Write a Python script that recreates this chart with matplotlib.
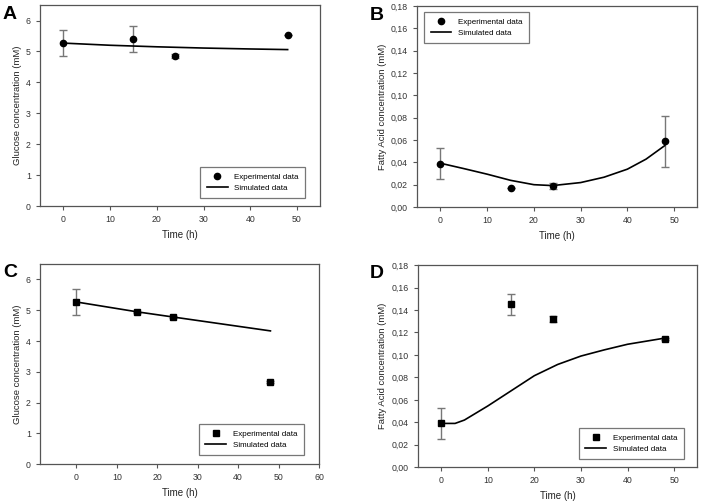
import numpy as np
import matplotlib
matplotlib.use("Agg")
import matplotlib.pyplot as plt
from matplotlib.ticker import FuncFormatter

plt.rcParams['font.family'] = ['Liberation Sans', 'DejaVu Sans']

# panel A - glucose, circles
a_t = [0, 15, 24, 48]
a_y = [5.27, 5.39, 4.85, 5.52]
a_err = [0.43, 0.42, 0.07, 0.0]
a_sim_t = [0, 10, 20, 30, 40, 48]
a_sim_y = [5.27, 5.20, 5.15, 5.11, 5.08, 5.06]

# panel B - fatty acid, circles
b_t = [0, 15, 24, 48]
b_y = [0.039, 0.017, 0.019, 0.059]
b_err = [0.014, 0.0, 0.003, 0.023]
b_sim_t = [0, 5, 10, 15, 20, 24, 30, 35, 40, 44, 48]
b_sim_y = [0.0393, 0.0345, 0.0295, 0.0240, 0.0201, 0.0193, 0.0220, 0.0268, 0.0340, 0.0430, 0.0551]

# panel C - glucose, squares
c_t = [0, 15, 24, 48]
c_y = [5.27, 4.94, 4.78, 2.67]
c_err = [0.43, 0.02, 0.02, 0.03]
c_sim_t = [0, 15, 24, 48]
c_sim_y = [5.27, 4.95, 4.78, 4.33]

# panel D - fatty acid, squares
d_t = [0, 15, 24, 48]
d_y = [0.039, 0.145, 0.132, 0.114]
d_err = [0.014, 0.0095, 0.0025, 0.001]
d_sim_t = [0, 3, 5, 7, 10, 15, 20, 25, 30, 35, 40, 48]
d_sim_y = [0.0390, 0.0390, 0.0420, 0.0470, 0.0545, 0.0680, 0.0815, 0.0915, 0.0990, 0.1045, 0.1095, 0.1150]

grey = '#555555'
comma = FuncFormatter(lambda v, p: ('%.2f' % v).replace('.', ','))


def style(ax, xlim, ylim, xticks, yticks, ylabel):
    ax.set_xlim(*xlim)
    ax.set_ylim(*ylim)
    ax.set_xticks(xticks)
    ax.set_yticks(yticks)
    for s in ax.spines.values():
        s.set_color(grey)
        s.set_linewidth(0.9)
    ax.tick_params(direction='out', length=3, width=0.8, colors=grey,
                   labelsize=6.3, labelcolor='#333333')
    ax.set_xlabel('Time (h)', fontsize=7, color='#222222', labelpad=4.5)
    ax.set_ylabel(ylabel, fontsize=6.8, color='#222222', labelpad=3)


def draw(ax, t, y, err, sim_t, sim_y, marker, loc, anchor):
    ax.errorbar(t, y, yerr=err, fmt='none', ecolor='#777777', elinewidth=1,
                capsize=3, capthick=1)
    ax.plot(t, y, linestyle='none', marker=marker, color='black',
            markersize=4.5 if marker == 'o' else 4, label='Experimental data')
    ax.plot(sim_t, sim_y, color='black', linewidth=1.2, label='Simulated data')
    leg = ax.legend(loc=loc, bbox_to_anchor=anchor, fontsize=5.8, frameon=True,
                    fancybox=False, borderpad=0.8, handlelength=2.6,
                    labelspacing=0.35, handletextpad=0.8, borderaxespad=0)
    leg.get_frame().set_edgecolor(grey)
    leg.get_frame().set_linewidth(0.9)


fig = plt.figure(figsize=(7.01, 5.04), dpi=100)

axA = fig.add_axes([0.057, 0.591, 0.400, 0.399])
draw(axA, a_t, a_y, a_err, a_sim_t, a_sim_y, 'o', 'lower right', (0.945, 0.04))
style(axA, (-5, 55), (0, 6.5), range(0, 51, 10), range(0, 7),
      'Glucose concentration (mM)')

axB = fig.add_axes([0.595, 0.589, 0.400, 0.399])
draw(axB, b_t, b_y, b_err, b_sim_t, b_sim_y, 'o', 'upper left', (0.025, 0.97))
style(axB, (-5, 55), (0, 0.18), range(0, 51, 10), np.arange(0, 0.181, 0.02),
      'Fatty Acid concentration (mM)')
axB.yaxis.set_major_formatter(comma)

axC = fig.add_axes([0.057, 0.079, 0.398, 0.397])
draw(axC, c_t, c_y, c_err, c_sim_t, c_sim_y, 's', 'lower right', (0.945, 0.045))
style(axC, (-9, 60), (0, 6.5), range(0, 61, 10), range(0, 7),
      'Glucose concentration (mM)')

axD = fig.add_axes([0.596, 0.073, 0.399, 0.401])
draw(axD, d_t, d_y, d_err, d_sim_t, d_sim_y, 's', 'lower right', (0.95, 0.04))
style(axD, (-5, 55), (0, 0.18), range(0, 51, 10), np.arange(0, 0.181, 0.02),
      'Fatty Acid concentration (mM)')
axD.yaxis.set_major_formatter(comma)

for x, y, letter in [(0.004, 0.971, 'A'), (0.527, 0.970, 'B'),
                     (0.004, 0.459, 'C'), (0.528, 0.458, 'D')]:
    fig.text(x, y, letter, fontsize=14, fontweight='bold', va='center')

fig.savefig('out.png', dpi=100)
